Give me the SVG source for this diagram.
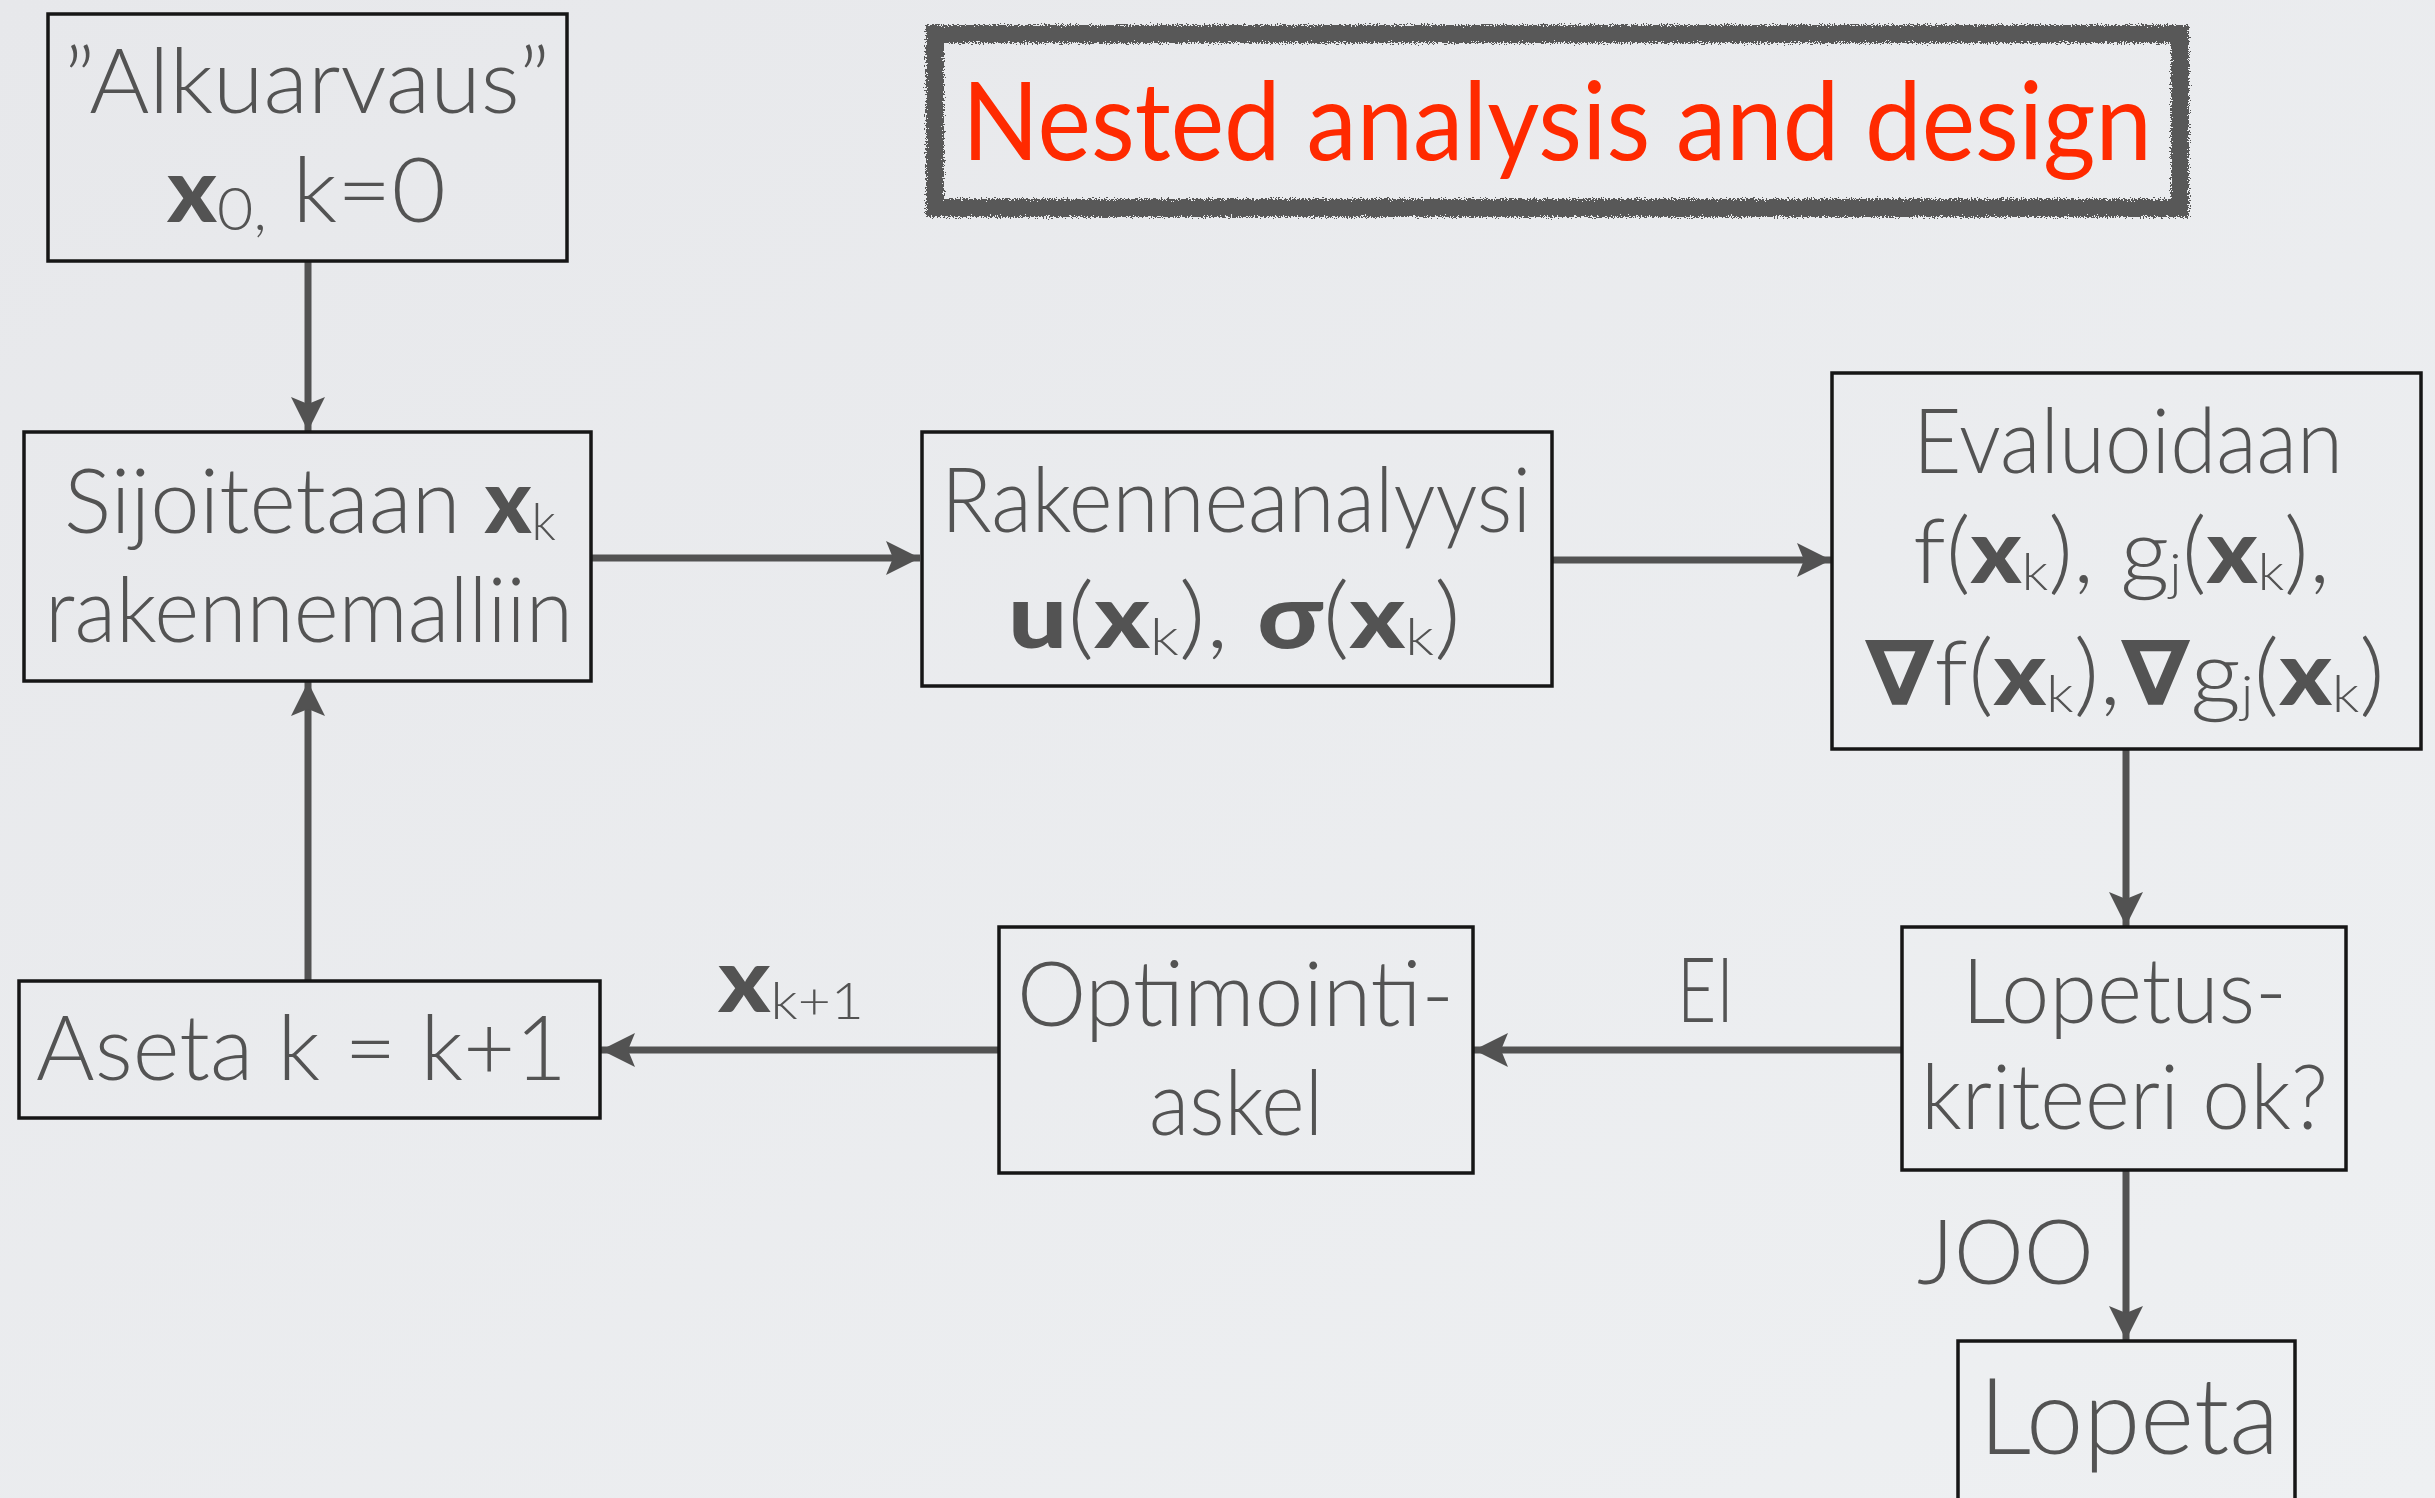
<svg xmlns="http://www.w3.org/2000/svg" width="2435" height="1498" viewBox="0 0 2435 1498">
<defs>
<linearGradient id="bg" x1="0" y1="0" x2="1" y2="1">
<stop offset="0" stop-color="#e7e8eb"/>
<stop offset="1" stop-color="#eef0f2"/>
</linearGradient>
<filter id="rough" x="-5%" y="-20%" width="110%" height="140%">
<feTurbulence type="fractalNoise" baseFrequency="0.7" numOctaves="2" seed="3" result="n"/>
<feDisplacementMap in="SourceGraphic" in2="n" scale="9" xChannelSelector="R" yChannelSelector="G"/>
</filter>
<marker id="ah" markerUnits="userSpaceOnUse" markerWidth="40" markerHeight="40" viewBox="-36 -20 40 40" refX="0" refY="0" orient="auto">
<path d="M0,0 L-34,-17 L-27,0 L-34,17 Z" fill="#525252"/>
</marker>
<style>
.box{fill:none;stroke:#161616;stroke-width:3.5}
.t{font-family:Lato,"Open Sans","Liberation Sans",sans-serif;font-weight:300;font-size:90px;fill:#535353}
.b{font-weight:900}
.s{font-size:52px}
.conn line{stroke:#525252;stroke-width:7;marker-end:url(#ah)}
.sym{font-family:"DejaVu Sans",sans-serif;font-weight:bold}
</style>
</defs>
<rect width="2435" height="1498" fill="url(#bg)"/>

<g id="title">
<rect x="935" y="34" width="1245" height="174" fill="none" stroke="#585858" stroke-width="18" filter="url(#rough)"/>
<text x="962" y="160" textLength="1190" lengthAdjust="spacingAndGlyphs" style="font-family:Lato,'Open Sans','Liberation Sans',sans-serif;font-size:108px;fill:#ff2a00">Nested analysis and design</text>
</g>

<g class="conn" id="connectors">
<line x1="308" y1="261" x2="308" y2="431"/>
<line x1="591" y1="558" x2="920" y2="558"/>
<line x1="1552" y1="560" x2="1831" y2="560"/>
<line x1="2126" y1="750" x2="2126" y2="926"/>
<line x1="1902" y1="1050" x2="1474" y2="1050"/>
<line x1="999" y1="1050" x2="601" y2="1050"/>
<line x1="308" y1="981" x2="308" y2="682"/>
<line x1="2126" y1="1170" x2="2126" y2="1340"/>
</g>

<g id="node-alkuarvaus">
<rect class="box" x="48" y="14" width="519" height="247"/>
<text class="t" x="64" y="113" textLength="486" lengthAdjust="spacingAndGlyphs">”Alkuarvaus”</text>
<text class="t" x="167" y="222" textLength="279" lengthAdjust="spacingAndGlyphs"><tspan class="b">x</tspan><tspan style="font-size:60px" dy="8">0,</tspan><tspan dy="-8"> k=0</tspan></text>
</g>

<g id="node-sijoitetaan">
<rect class="box" x="24" y="432" width="567" height="249"/>
<text class="t" x="64" y="533" textLength="492" lengthAdjust="spacingAndGlyphs">Sijoitetaan <tspan class="b">x</tspan><tspan class="s" dy="7">k</tspan></text>
<text class="t" x="45" y="642" textLength="528" lengthAdjust="spacingAndGlyphs">rakennemalliin</text>
</g>

<g id="node-rakenneanalyysi">
<rect class="box" x="922" y="432" width="630" height="254"/>
<text class="t" x="941" y="532" textLength="590" lengthAdjust="spacingAndGlyphs">Rakenneanalyysi</text>
<text class="t" x="1008" y="648" textLength="453" lengthAdjust="spacingAndGlyphs"><tspan class="b">u</tspan>(<tspan class="b">x</tspan><tspan class="s" dy="7">k</tspan><tspan dy="-7">), </tspan><tspan class="b">σ</tspan>(<tspan class="b">x</tspan><tspan class="s" dy="7">k</tspan><tspan dy="-7">)</tspan></text>
</g>

<g id="node-evaluoidaan">
<rect class="box" x="1832" y="373" width="589" height="376"/>
<text class="t" x="1913" y="473" textLength="430" lengthAdjust="spacingAndGlyphs">Evaluoidaan</text>
<text class="t" x="1913" y="583" textLength="417" lengthAdjust="spacingAndGlyphs">f(<tspan class="b">x</tspan><tspan class="s" dy="7">k</tspan><tspan dy="-7">), g</tspan><tspan class="s" dy="7">j</tspan><tspan dy="-7">(</tspan><tspan class="b">x</tspan><tspan class="s" dy="7">k</tspan><tspan dy="-7">),</tspan></text>
<text class="t" x="1865" y="705" textLength="520" lengthAdjust="spacingAndGlyphs"><tspan class="sym">∇</tspan>f(<tspan class="b">x</tspan><tspan class="s" dy="7">k</tspan><tspan dy="-7">),</tspan><tspan class="sym">∇</tspan>g<tspan class="s" dy="7">j</tspan><tspan dy="-7">(</tspan><tspan class="b">x</tspan><tspan class="s" dy="7">k</tspan><tspan dy="-7">)</tspan></text>
</g>

<g id="node-lopetuskriteeri">
<rect class="box" x="1902" y="927" width="444" height="243"/>
<text class="t" x="1962" y="1023" textLength="325" lengthAdjust="spacingAndGlyphs">Lopetus-</text>
<text class="t" x="1921" y="1129" textLength="407" lengthAdjust="spacingAndGlyphs">kriteeri ok?</text>
</g>

<g id="node-optimointi">
<rect class="box" x="999" y="927" width="474" height="246"/>
<text class="t" x="1017" y="1026" textLength="437" lengthAdjust="spacingAndGlyphs">Optimointi-</text>
<text class="t" x="1149" y="1135" textLength="174" lengthAdjust="spacingAndGlyphs">askel</text>
</g>

<g id="node-aseta">
<rect class="box" x="19" y="981" width="581" height="137"/>
<text class="t" x="36" y="1080" textLength="531" lengthAdjust="spacingAndGlyphs">Aseta k = k+1</text>
</g>

<g id="node-lopeta">
<rect class="box" x="1958" y="1341" width="337" height="170"/>
<text class="t" x="1979" y="1454" textLength="300" lengthAdjust="spacingAndGlyphs" style="font-size:106px">Lopeta</text>
</g>

<g id="labels">
<text class="t" x="718" y="1012" textLength="146" lengthAdjust="spacingAndGlyphs"><tspan class="b">x</tspan><tspan class="s" dy="7">k+1</tspan></text>
<text class="t" x="1677" y="1022" textLength="57" lengthAdjust="spacingAndGlyphs">EI</text>
<text class="t" x="1917" y="1284" textLength="177" lengthAdjust="spacingAndGlyphs">JOO</text>
</g>
</svg>
